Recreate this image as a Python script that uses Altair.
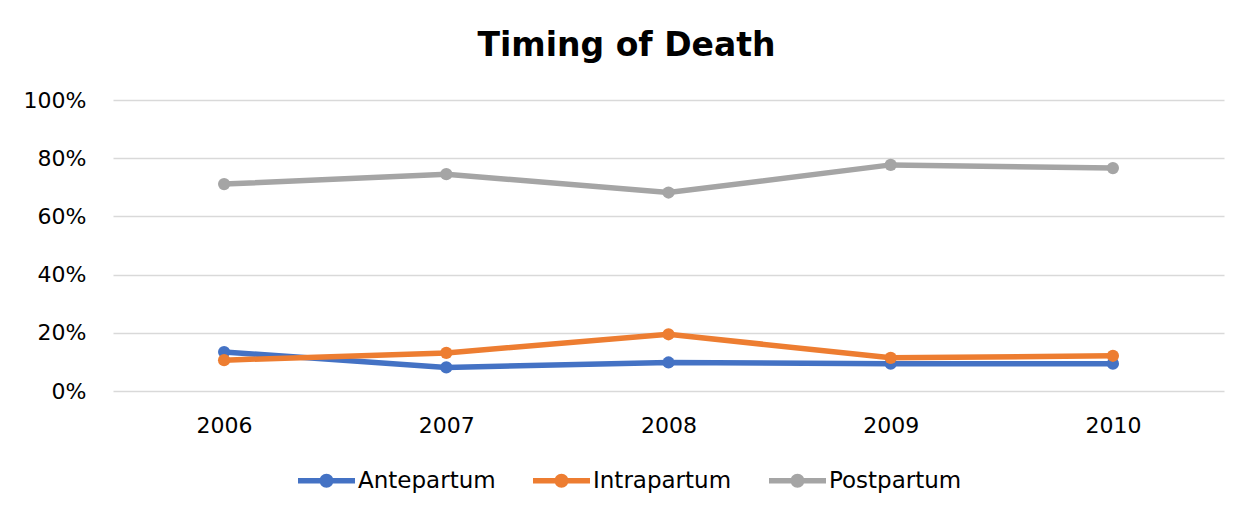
import altair as alt
import pandas as pd

years = ["2006", "2007", "2008", "2009", "2010"]
series = ["Antepartum", "Intrapartum", "Postpartum"]
antepartum = [0.134, 0.081, 0.098, 0.094, 0.094]
intrapartum = [0.106, 0.131, 0.195, 0.114, 0.121]
postpartum = [0.711, 0.745, 0.682, 0.777, 0.766]
colors = ["#4472C4", "#ED7D31", "#A5A5A5"]

rows = []
for name, vals in zip(series, [antepartum, intrapartum, postpartum]):
    for y, v in zip(years, vals):
        rows.append({"Year": y, "Series": name, "Value": v})
df = pd.DataFrame(rows)

sym = ("M-1,-0.1 H1 V0.1 H-1 Z "
       "M-0.245,0 A0.245,0.245 0 1,1 0.245,0 A0.245,0.245 0 1,1 -0.245,0 Z")

color_scale = alt.Scale(domain=series, range=colors)
x_enc = alt.X("Year:O", title=None,
              axis=alt.Axis(labelAngle=0, ticks=False, tickSize=0, domain=False,
                            labelPadding=24, labelFontSize=22, labelColor="#000000",
                            labelFont="DejaVu Sans"))
y_enc = alt.Y("Value:Q", title=None,
              scale=alt.Scale(domain=[0, 1], nice=False),
              axis=alt.Axis(format="%", values=[0, 0.2, 0.4, 0.6, 0.8, 1.0],
                            ticks=False, tickSize=0, domain=False, labelPadding=27,
                            labelFontSize=22, labelColor="#000000", labelFont="DejaVu Sans",
                            gridColor="#d9d9d9", gridWidth=1.5))

legend = alt.Legend(title=None, orient="none", direction="horizontal",
                    legendX=185, legendY=352,
                    symbolType=sym, symbolSize=3249,
                    symbolStrokeWidth=0, symbolOpacity=1,
                    labelFontSize=23, labelFont="DejaVu Sans",
                    labelColor="#000000", labelOffset=3,
                    columnPadding=37)

chart = alt.Chart(df).mark_line(
    strokeWidth=5.5,
    point=alt.OverlayMarkDef(filled=True, size=150, opacity=1),
).encode(
    x=x_enc, y=y_enc,
    color=alt.Color("Series:N", scale=color_scale, legend=legend),
).properties(
    width=1111, height=291,
    title=alt.TitleParams("Timing of Death", fontSize=33, font="DejaVu Sans",
                          fontWeight="bold", color="#000000", anchor="middle",
                          dx=-42, offset=26),
    autosize=alt.AutoSizeParams(type="none"),
    padding={"left": 105, "top": 92, "right": 20, "bottom": 120},
).configure(background="#ffffff").configure_view(stroke=None)

chart.save("out.html", embed_options={"renderer": "svg", "actions": False})
